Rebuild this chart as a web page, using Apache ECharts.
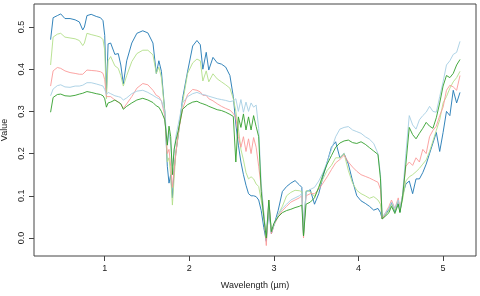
<!DOCTYPE html>
<html>
<head>
<meta charset="utf-8">
<script src="https://cdn.jsdelivr.net/npm/echarts@6/dist/echarts.min.js"></script>
<style>
  html, body { margin: 0; padding: 0; background: #fff; }
  #chart { width: 480px; height: 296px; }
</style>
</head>
<body>
<div id="chart"></div>
<script>
// wavelength grid (µm)
var wavelength = [0.36,0.39,0.44,0.48,0.53,0.59,0.65,0.70,0.74,0.76,0.79,0.84,0.90,0.95,0.98,1.00,1.02,1.04,1.07,1.12,
  1.16,1.19,1.22,1.26,1.32,1.38,1.45,1.51,1.57,1.61,1.64,1.67,1.71,1.74,1.76,1.78,1.80,1.82,1.84,1.87,
  1.92,1.98,2.04,2.09,2.13,2.16,2.20,2.23,2.28,2.33,2.38,2.43,2.48,2.52,2.55,2.58,2.61,2.64,2.67,2.70,
  2.73,2.76,2.79,2.82,2.85,2.88,2.91,2.94,2.97,3.00,3.05,3.10,3.15,3.20,3.25,3.30,3.33,3.35,3.38,3.43,
  3.48,3.53,3.58,3.63,3.68,3.73,3.78,3.83,3.88,3.93,3.98,4.03,4.08,4.13,4.18,4.23,4.26,4.28,4.32,4.36,
  4.39,4.43,4.47,4.49,4.52,4.56,4.60,4.64,4.68,4.72,4.76,4.80,4.84,4.88,4.92,4.96,5.00,5.04,5.08,5.12,
  5.16,5.20];

var darkBlue = [0.47,0.522,0.527,0.531,0.52,0.52,0.517,0.512,0.493,0.50,0.527,0.53,0.525,0.522,0.515,0.48,0.345,0.46,0.462,0.435,
  0.437,0.41,0.365,0.42,0.462,0.485,0.491,0.486,0.462,0.39,0.42,0.395,0.30,0.17,0.13,0.15,0.095,0.16,0.2,0.245,
  0.33,0.395,0.455,0.468,0.458,0.40,0.44,0.398,0.428,0.415,0.412,0.405,0.385,0.335,0.27,0.22,0.18,0.15,0.125,0.105,
  0.1,0.1,0.098,0.09,0.065,0.025,-0.008,0.07,0.01,0.03,0.065,0.11,0.122,0.13,0.136,0.126,0.12,0.01,0.11,0.114,
  0.08,0.105,0.145,0.18,0.215,0.228,0.19,0.2,0.175,0.135,0.1,0.088,0.082,0.075,0.066,0.07,0.06,0.045,0.055,0.068,
  0.082,0.062,0.086,0.062,0.1,0.128,0.135,0.105,0.14,0.14,0.155,0.175,0.2,0.225,0.25,0.205,0.25,0.3,0.29,0.35,
  0.32,0.345];

var lightGreen = [0.41,0.476,0.483,0.485,0.476,0.474,0.472,0.468,0.456,0.462,0.485,0.482,0.479,0.476,0.47,0.445,0.33,0.42,0.43,0.408,
  0.402,0.385,0.36,0.385,0.418,0.437,0.445,0.445,0.434,0.39,0.405,0.38,0.30,0.18,0.19,0.15,0.078,0.14,0.2,0.245,
  0.32,0.39,0.415,0.424,0.42,0.372,0.396,0.37,0.389,0.377,0.37,0.363,0.355,0.33,0.3,0.26,0.21,0.185,0.155,0.14,
  0.145,0.14,0.128,0.122,0.09,0.05,0.0,0.08,0.015,0.03,0.055,0.075,0.1,0.108,0.113,0.112,0.11,0.005,0.112,0.11,
  0.098,0.12,0.14,0.16,0.172,0.19,0.19,0.2,0.16,0.13,0.113,0.105,0.1,0.094,0.098,0.09,0.08,0.045,0.055,0.065,
  0.08,0.065,0.09,0.065,0.09,0.135,0.145,0.15,0.157,0.165,0.175,0.185,0.205,0.23,0.255,0.28,0.32,0.335,0.355,0.37,
  0.38,0.395];

var pink = [0.36,0.396,0.404,0.402,0.396,0.392,0.39,0.388,0.388,0.39,0.398,0.397,0.396,0.394,0.39,0.375,0.335,0.338,0.335,0.327,
  0.322,0.318,0.307,0.318,0.335,0.355,0.366,0.363,0.35,0.338,0.335,0.325,0.29,0.2,0.21,0.17,0.12,0.16,0.2,0.25,
  0.305,0.34,0.352,0.35,0.346,0.338,0.338,0.33,0.325,0.318,0.312,0.307,0.303,0.295,0.285,0.24,0.215,0.24,0.205,0.235,
  0.2,0.238,0.215,0.17,0.12,0.06,-0.018,0.09,0.01,0.03,0.05,0.065,0.075,0.085,0.09,0.095,0.1,0.0,0.1,0.105,
  0.105,0.115,0.13,0.145,0.162,0.178,0.186,0.196,0.18,0.168,0.158,0.15,0.146,0.142,0.137,0.132,0.115,0.045,0.06,0.075,
  0.09,0.07,0.095,0.07,0.1,0.17,0.18,0.172,0.19,0.18,0.21,0.2,0.24,0.255,0.265,0.29,0.31,0.35,0.362,0.358,
  0.35,0.385];

var lightBlue = [0.337,0.353,0.361,0.363,0.358,0.357,0.36,0.36,0.362,0.365,0.368,0.368,0.365,0.362,0.36,0.352,0.34,0.345,0.342,0.337,
  0.335,0.333,0.327,0.332,0.342,0.348,0.35,0.345,0.338,0.333,0.33,0.325,0.30,0.22,0.25,0.22,0.17,0.2,0.24,0.27,
  0.32,0.335,0.342,0.345,0.342,0.34,0.338,0.336,0.333,0.33,0.328,0.326,0.323,0.325,0.33,0.3,0.328,0.298,0.322,0.3,
  0.32,0.31,0.315,0.26,0.13,0.06,0.005,0.085,0.015,0.03,0.055,0.07,0.08,0.09,0.095,0.1,0.105,0.005,0.108,0.115,
  0.12,0.135,0.155,0.18,0.21,0.24,0.258,0.262,0.264,0.256,0.252,0.248,0.24,0.234,0.224,0.2,0.15,0.05,0.06,0.07,
  0.085,0.07,0.09,0.07,0.1,0.2,0.29,0.268,0.258,0.28,0.29,0.298,0.312,0.3,0.298,0.335,0.37,0.41,0.42,0.435,
  0.44,0.466];

var darkGreen = [0.298,0.333,0.34,0.341,0.337,0.336,0.338,0.341,0.343,0.345,0.347,0.345,0.342,0.34,0.337,0.33,0.31,0.32,0.322,0.327,
  0.322,0.318,0.305,0.312,0.32,0.327,0.331,0.327,0.321,0.313,0.31,0.3,0.28,0.22,0.265,0.24,0.15,0.21,0.23,0.255,
  0.305,0.316,0.322,0.324,0.32,0.318,0.315,0.312,0.308,0.304,0.302,0.298,0.293,0.288,0.18,0.287,0.262,0.294,0.256,0.287,
  0.256,0.29,0.264,0.24,0.11,0.05,0.0,0.09,0.015,0.035,0.05,0.06,0.065,0.068,0.072,0.075,0.078,0.005,0.08,0.085,
  0.095,0.12,0.15,0.175,0.195,0.215,0.225,0.23,0.232,0.226,0.224,0.228,0.222,0.214,0.206,0.198,0.14,0.045,0.052,0.06,
  0.075,0.058,0.08,0.06,0.095,0.175,0.262,0.245,0.235,0.248,0.26,0.274,0.265,0.26,0.285,0.32,0.36,0.385,0.38,0.39,
  0.41,0.423];

var xTicks = [1, 2, 3, 4, 5];
var yTicks = [0, 0.1, 0.2, 0.3, 0.4, 0.5];

var seriesNames = ['S1', 'S2', 'S3', 'S4', 'S5'];
var seriesValues = [darkBlue, lightGreen, pink, lightBlue, darkGreen];
var seriesColors = ['#1F78B4', '#B2DF8A', '#FB9A99', '#A6CEE3', '#33A02C'];

function pairs(vals) {
  var out = [];
  for (var i = 0; i < vals.length; i++) out.push([wavelength[i], vals[i]]);
  return out;
}

var chart = echarts.init(document.getElementById('chart'), null, {renderer: 'canvas'});
var font = 'Liberation Sans, Arial, sans-serif';

var series = [];
for (var k = 0; k < seriesValues.length; k++) {
  series.push({
    name: seriesNames[k],
    type: 'line',
    data: pairs(seriesValues[k]),
    showSymbol: false,
    lineStyle: {width: 1, color: seriesColors[k], opacity: 0.9},
    itemStyle: {color: seriesColors[k]}
  });
}

var option = {
  animation: false,
  backgroundColor: '#fff',
  grid: {
    left: 34, right: 4, top: 4, bottom: 40,
    show: true, borderColor: '#444', borderWidth: 1,
    outerBoundsMode: 'none'
  },
  xAxis: {
    type: 'value',
    min: 0.164, max: 5.389,
    name: 'Wavelength (µm)',
    nameLocation: 'middle',
    nameGap: 25,
    nameTextStyle: {fontFamily: font, fontSize: 9, color: '#222'},
    axisLine: {show: false, onZero: false},
    axisTick: {show: true, length: 5, customValues: xTicks, lineStyle: {color: '#444'}},
    axisLabel: {customValues: xTicks, margin: 8, fontFamily: font, fontSize: 9, color: '#222'},
    splitLine: {show: false}
  },
  yAxis: {
    type: 'value',
    min: -0.0427, max: 0.5545,
    name: 'Value',
    nameLocation: 'middle',
    nameGap: 19,
    nameTextStyle: {fontFamily: font, fontSize: 9, color: '#222'},
    axisLine: {show: false, onZero: false},
    axisTick: {show: true, length: 5, customValues: yTicks, lineStyle: {color: '#444'}},
    axisLabel: {
      customValues: yTicks, rotate: 90, margin: 8,
      fontFamily: font, fontSize: 9, color: '#222',
      formatter: function (v) { return Number(v).toFixed(1); }
    },
    splitLine: {show: false}
  },
  series: series
};
chart.setOption(option);
</script>
</body>
</html>
